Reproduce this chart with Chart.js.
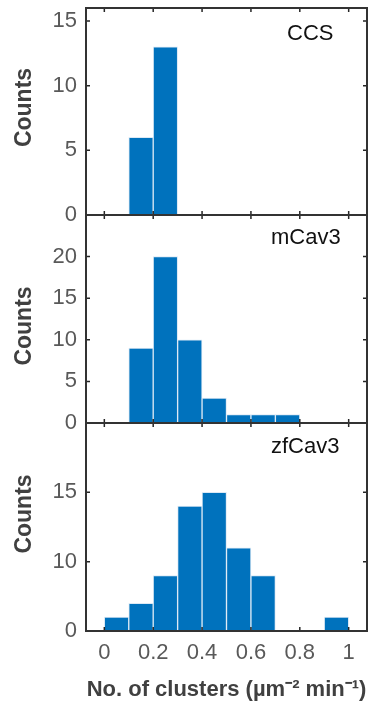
<!DOCTYPE html>
<html>
<head>
<meta charset="utf-8">
<script src="https://cdn.jsdelivr.net/npm/chart.js@4"></script>
<style>
  body { margin: 0; background: #fff; }
  #wrap { position: relative; width: 380px; height: 707px; overflow: hidden; }
  canvas { position: absolute; left: 0; }
</style>
</head>
<body>
<div id="wrap">
  <canvas id="ccsChart" width="380" height="240" style="top:0px"></canvas>
  <canvas id="mcavChart" width="380" height="250" style="top:200px"></canvas>
  <canvas id="zfcavChart" width="380" height="299" style="top:408px"></canvas>
</div>
<script>
// histogram bins (centres), width 0.1
var binCenters = [0.05, 0.15, 0.25, 0.35, 0.45, 0.55, 0.65, 0.75, 0.85, 0.95];
var ccsCounts = [0, 6, 13, 0, 0, 0, 0, 0, 0, 0];
var mcavCounts = [0, 9, 20, 10, 3, 1, 1, 1, 0, 0];
var zfcavCounts = [1, 2, 4, 9, 10, 6, 4, 0, 0, 1];

var xTicks = [0, 0.2, 0.4, 0.6, 0.8, 1];
var xTickLabels = ['0', '0.2', '0.4', '0.6', '0.8', '1'];
var ccsYTicks = [0, 5, 10, 15];
var ccsYLabels = ['0', '5', '10', '15'];
var mcavYTicks = [0, 5, 10, 15, 20];
var mcavYLabels = ['0', '5', '10', '15', '20'];
var zfcavYTicks = [0, 5, 10];
var zfcavYLabels = ['0', '10', '15'];

var xTitle = 'No. of clusters (\u00b5m\u207b\u00b2 min\u207b\u00b9)';

var boxPlugin = {
  id: 'boxPlugin',
  afterDraw: function(chart, args, opts) {
    var ctx = chart.ctx;
    var a = chart.chartArea;
    var x = chart.scales.x, y = chart.scales.y;
    ctx.save();
    ctx.strokeStyle = '#262626';
    ctx.lineWidth = 1.5;
    ctx.beginPath();
    x.ticks.forEach(function(t) {
      var px = x.getPixelForValue(t.value);
      ctx.moveTo(px, a.bottom); ctx.lineTo(px, a.bottom - 4);
      ctx.moveTo(px, a.top); ctx.lineTo(px, a.top + 4);
    });
    y.ticks.forEach(function(t) {
      var py = y.getPixelForValue(t.value);
      ctx.moveTo(a.left, py); ctx.lineTo(a.left + 4, py);
      ctx.moveTo(a.right, py); ctx.lineTo(a.right - 4, py);
    });
    ctx.stroke();
    ctx.lineWidth = 2;
    ctx.strokeStyle = '#333333';
    ctx.strokeRect(a.left, a.top, a.right - a.left, a.bottom - a.top);

    // panel name
    ctx.fillStyle = '#111';
    ctx.font = '22px "Liberation Sans", Arial, sans-serif';
    ctx.textAlign = 'left';
    ctx.textBaseline = 'middle';
    ctx.fillText(opts.name, opts.nameX, a.top + opts.nameDy);

    // y title
    ctx.translate(25, (a.top + a.bottom) / 2 + opts.countsDy);
    ctx.rotate(-Math.PI / 2);
    ctx.fillStyle = '#404040';
    ctx.font = 'bold 23px "Liberation Sans", Arial, sans-serif';
    ctx.textAlign = 'center';
    ctx.fillText('Counts', 0, 0);
    ctx.restore();
  }
};

function noPad(s) {
  s.paddingTop = 0; s.paddingBottom = 0;
  s.paddingLeft = 0; s.paddingRight = 0;
}

function makePanel(id, counts, yMax, yTicks, yLabels, panel) {
  var points = binCenters.map(function(c, i) { return {x: c, y: counts[i]}; });
  return new Chart(document.getElementById(id), {
    type: 'bar',
    data: {
      datasets: [{
        data: points,
        backgroundColor: '#0072BD',
        borderColor: '#dce9f5',
        borderWidth: 1,
        borderSkipped: 'bottom',
        barPercentage: 1,
        categoryPercentage: 1
      }]
    },
    options: {
      responsive: false,
      animation: false,
      layout: { padding: panel.padding },
      plugins: {
        legend: { display: false },
        tooltip: { enabled: false },
        boxPlugin: panel
      },
      scales: {
        x: {
          type: 'linear',
          offset: false,
          min: -0.075,
          max: 1.075,
          grid: { display: false },
          border: { display: false },
          afterBuildTicks: function(s) { s.ticks = xTicks.map(function(v) { return {value: v}; }); },
          afterFit: function(s) { s.height = panel.xHeight; noPad(s); },
          ticks: {
            display: panel.showX,
            padding: 1,
            color: '#595959',
            font: { family: '"Liberation Sans", Arial, sans-serif', size: 22 },
            maxRotation: 0,
            callback: function(v, i) { return xTickLabels[i]; }
          },
          title: {
            display: panel.showX,
            text: xTitle,
            color: '#404040',
            padding: { top: 0, bottom: 4 },
            font: { family: '"Liberation Sans", Arial, sans-serif', size: 22, weight: 'bold' }
          }
        },
        y: {
          min: 0,
          max: yMax,
          grid: { display: false, drawTicks: false },
          border: { display: false },
          afterBuildTicks: function(s) { s.ticks = yTicks.map(function(v) { return {value: v}; }); },
          afterFit: function(s) { s.width = 86; noPad(s); },
          ticks: {
            padding: 9,
            color: '#595959',
            font: { family: '"Liberation Sans", Arial, sans-serif', size: 22 },
            callback: function(v, i) { return yLabels[i]; }
          }
        }
      }
    },
    plugins: [boxPlugin]
  });
}

makePanel('ccsChart', ccsCounts, 16, ccsYTicks, ccsYLabels, {
  name: 'CCS', nameX: 287, nameDy: 26, countsDy: -4,
  padding: { top: 8, bottom: 25, left: 0, right: 13 }, xHeight: 0, showX: false
});
makePanel('mcavChart', mcavCounts, 25, mcavYTicks, mcavYLabels, {
  name: 'mCav3', nameX: 271, nameDy: 23, countsDy: 7,
  padding: { top: 15, bottom: 27, left: 0, right: 13 }, xHeight: 0, showX: false
});
makePanel('zfcavChart', zfcavCounts, 15, zfcavYTicks, zfcavYLabels, {
  name: 'zfCav3', nameX: 271, nameDy: 24, countsDy: -13,
  padding: { top: 15, bottom: 0, left: 0, right: 13 }, xHeight: 76, showX: true
});
</script>
</body>
</html>
